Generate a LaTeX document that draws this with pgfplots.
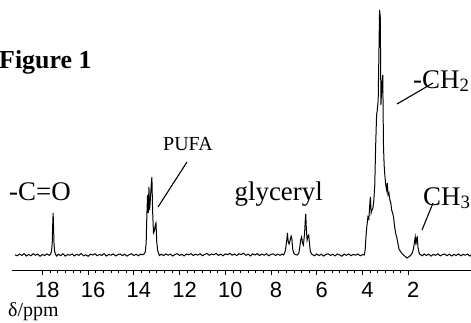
\documentclass[border=0pt]{standalone}
\usepackage{pgfplots}
\pgfplotsset{compat=1.18}
\usepackage{fontspec}
\setmainfont{Liberation Serif}
\newfontfamily\arial{Liberation Sans}
\begin{document}
\begin{tikzpicture}[x=1bp,y=1bp]
\useasboundingbox (0,0) rectangle (471,322);
\begin{axis}[
  at={(12bp,52bp)}, anchor=south west,
  width=459bp, height=270bp, scale only axis,
  xmin=-0.75, xmax=19.33, ymin=-15, ymax=255,
  x dir=reverse, clip=false,
  axis x line*=bottom, axis y line=none,
  axis line style={line width=0.8pt},
  xtick={2,4,6,8,10,12,14,16,18},
  xticklabels={2,4,6,8,10,12,14,16,18},
  minor x tick num=5,
  tick align=outside,
  major tick length=5bp, minor tick length=3bp,
  tick style={line width=0.7pt, black},
  xticklabel style={font=\arial\fontsize{22}{22}\selectfont, inner sep=0pt, anchor=north, xshift=5bp, yshift=-7bp},
]
\addplot[black, line width=1pt, mark=none] table {
19.20 0.3
19.10 -0.8
19.00 1.0
18.90 -0.4
18.80 1.4
18.70 -1.0
18.60 0.6
18.50 -0.7
18.40 1.2
18.30 -0.2
18.20 0.8
18.10 -1.2
18.00 0.5
17.90 -0.5
17.80 1.1
17.70 -0.3
17.64 1.0
17.60 4
17.57 12
17.55 30
17.53 42
17.51 26
17.49 10
17.46 3
17.42 0.5
17.38 -1
17.30 0.8
17.20 -0.6
17.10 1.3
17.00 -1.1
16.90 0.4
16.80 -0.2
16.70 1.0
16.60 -0.9
16.50 0.7
16.40 -0.3
16.30 1.5
16.20 -0.8
16.10 0.2
16.00 -1.3
15.90 0.9
15.80 0.0
15.70 1.2
15.60 -0.7
15.50 0.5
15.40 -0.4
15.30 1.4
15.20 -1.0
15.10 0.6
15.00 -0.2
14.90 1.1
14.80 -0.9
14.70 0.3
14.60 1.0
14.50 -0.6
14.40 0.8
14.30 -1.1
14.20 0.4
14.10 1.2
14.00 -0.5
13.90 0.7
13.80 -0.8
13.70 0.9
13.62 0.2
13.55 1.0
13.50 3
13.46 12
13.43 40
13.40 60
13.37 42
13.34 68
13.31 45
13.28 55
13.24 70
13.21 78
13.18 45
13.14 22
13.10 24
13.06 30
13.03 32
13.00 14
12.96 5
12.92 1.5
12.88 -0.5
12.80 0.8
12.70 -0.6
12.60 1.1
12.50 -0.2
12.40 0.9
12.30 -1.0
12.20 0.5
12.10 1.3
12.00 -0.4
11.90 0.7
11.80 -0.9
11.70 1.0
11.60 0.1
11.50 1.4
11.40 -0.5
11.30 0.8
11.20 -0.1
11.10 1.2
11.00 -0.7
10.90 0.6
10.80 1.5
10.70 -0.3
10.60 1.0
10.50 0.2
10.40 1.6
10.30 -0.4
10.20 0.9
10.10 -0.8
10.00 1.1
9.90 0.3
9.80 1.7
9.70 -0.2
9.60 1.0
9.50 -0.6
9.40 1.3
9.30 0.4
9.20 1.8
9.10 -0.3
9.00 0.8
8.90 -0.9
8.80 1.2
8.70 0.0
8.60 1.5
8.50 -0.6
8.40 0.9
8.30 -0.2
8.20 1.3
8.10 -0.8
8.00 0.6
7.90 1.1
7.80 -0.5
7.70 0.9
7.60 -0.3
7.52 1.0
7.45 0
7.40 2
7.36 6
7.31 15
7.28 22
7.25 14
7.21 11
7.17 14
7.12 19
7.09 17
7.05 6
7.01 2
6.95 0.5
6.85 0
6.78 2
6.74 8
6.70 15
6.66 18
6.62 12
6.58 10
6.53 22
6.50 35
6.48 41
6.45 25
6.42 15
6.38 19
6.35 20
6.31 10
6.28 4
6.23 1
6.15 0
6.10 -0.8
6.00 1.0
5.90 -0.6
5.80 0.8
5.70 -1.1
5.60 0.5
5.50 1.2
5.40 -0.4
5.30 0.7
5.20 -0.9
5.10 1.0
5.00 0.1
4.90 -1.2
4.80 0.9
4.70 -0.3
4.60 1.1
4.50 -0.7
4.40 0.6
4.30 -0.2
4.20 1.0
4.10 -0.8
4.00 0.4
3.92 0
3.88 5
3.84 20
3.80 30
3.76 38
3.72 36
3.68 50
3.65 58
3.62 42
3.58 45
3.54 47
3.50 55
3.46 70
3.42 110
3.38 140
3.35 145
3.31 155
3.28 200
3.25 245
3.22 238
3.19 150
3.15 170
3.11 180
3.08 110
3.05 90
3.02 80
2.98 70
2.94 65
2.91 72
2.88 60
2.84 62
2.80 55
2.76 52
2.72 45
2.68 42
2.64 38
2.60 30
2.55 22
2.50 18
2.45 12
2.40 6
2.32 3
2.25 1
2.15 -1
2.05 -3
1.95 -1.5
1.88 0
1.82 2
1.77 6
1.73 12
1.69 18
1.66 10
1.63 17
1.60 18
1.57 8
1.53 3
1.49 0.5
1.45 0.3
1.38 -0.8
1.30 1.0
1.20 -0.5
1.10 0.9
1.00 -1.1
0.90 0.6
0.80 -0.3
0.70 1.2
0.60 -0.9
0.50 0.4
0.40 1.0
0.30 -0.7
0.20 0.8
0.10 -1.0
0.00 0.5
-0.10 -0.4
-0.20 1.1
-0.30 -0.8
-0.40 0.6
-0.50 -0.2
-0.60 0.9
-0.70 -1.0
-0.74 0.2
};
\end{axis}
% labels (picture coordinates in bp, origin bottom-left)
\node[anchor=base west, inner sep=0pt, font=\fontsize{26}{26}\selectfont\bfseries] at (-1,254) {Figure 1};
\node[anchor=base west, inner sep=0pt, font=\fontsize{27}{27}\selectfont] at (9,122) {-C=O};
\node[anchor=base west, inner sep=0pt, font=\fontsize{20}{20}\selectfont] at (163,172) {PUFA};
\node[anchor=base east, inner sep=0pt, font=\fontsize{27}{27}\selectfont] at (323,122) {glyceryl};
\node[anchor=base west, inner sep=0pt, font=\fontsize{27}{27}\selectfont] at (413,234) {-CH\textsubscript{2}};
\node[anchor=base west, inner sep=0pt, font=\fontsize{27}{27}\selectfont] at (423,117) {CH\textsubscript{3}};
\node[anchor=base west, inner sep=0pt, font=\fontsize{20}{20}\selectfont] at (8,6) {δ/ppm};
\draw[line width=1.1pt] (187,160) -- (158,115);
\draw[line width=1.1pt] (433,239) -- (397,218);
\draw[line width=1.1pt] (433,119) -- (422,92);
\end{tikzpicture}
\end{document}
